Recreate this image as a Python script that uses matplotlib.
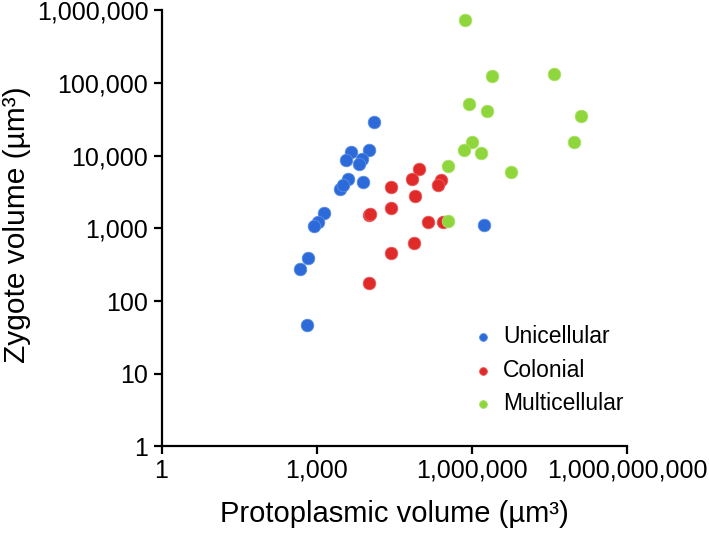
import matplotlib
matplotlib.use("Agg")
import matplotlib.pyplot as plt
from matplotlib.ticker import FixedLocator, FuncFormatter, NullLocator

plt.rcParams['font.family'] = ['Liberation Sans', 'DejaVu Sans']

# values (protoplasmic volume, zygote volume) in um^3
uni_x = [12650, 10140, 4550, 3650, 7430, 6500, 3980, 7760, 2790, 3190,
         1370, 1050, 880, 673, 472, 644, 1680000]
uni_y = [29000, 12000, 11200, 8700, 9000, 7700, 4800, 4350, 3480, 3950,
         1630, 1220, 1080, 392, 277, 47, 1110]

col_x = [93500, 68500, 27000, 249000, 218000, 78300, 27000, 10140, 10600,
         140000, 272000, 75000, 27000, 10140]
col_y = [6560, 4790, 3720, 4630, 3960, 2790, 1910, 1530, 1580,
         1220, 1220, 630, 459, 177]

multi_x = [723000, 2400000, 39500000, 863000, 1920000, 126000000,
           986000, 692000, 1470000, 96000000, 340000, 5830000, 340000]
multi_y = [735000, 125000, 133000, 51400, 41200, 35200,
           15400, 12000, 10900, 15400, 7220, 5970, 1260]

series = [('Unicellular', uni_x, uni_y, '#2b6ad8', '#5a8ee6'),
          ('Colonial', col_x, col_y, '#e02a2a', '#ea5c5c'),
          ('Multicellular', multi_x, multi_y, '#8fd63c', '#a9e266')]

x_ticks = [1, 1e3, 1e6, 1e9]
y_ticks = [1, 10, 100, 1e3, 1e4, 1e5, 1e6]

fig = plt.figure(figsize=(7.09, 5.34), dpi=100)
ax = fig.add_axes([0.2278, 0.1639, 0.6566, 0.8165])

for name, xs, ys, fc, ec in series:
    ax.scatter(xs, ys, s=82, color=fc, edgecolors=ec, linewidths=0.6,
               label=name, zorder=3)

ax.set_xscale('log')
ax.set_yscale('log')
ax.set_xlim(1, 1e9)
ax.set_ylim(1, 1e6)

fmt = FuncFormatter(lambda v, p: f'{int(round(v)):,}')
ax.xaxis.set_major_locator(FixedLocator(x_ticks))
ax.yaxis.set_major_locator(FixedLocator(y_ticks))
ax.xaxis.set_minor_locator(NullLocator())
ax.yaxis.set_minor_locator(NullLocator())
ax.xaxis.set_major_formatter(fmt)
ax.yaxis.set_major_formatter(fmt)

for side in ['top', 'right']:
    ax.spines[side].set_visible(False)
for side in ['left', 'bottom']:
    ax.spines[side].set_linewidth(1.6)
ax.tick_params(axis='both', direction='out', length=5.5, width=1.6,
               labelsize=18)
ax.tick_params(axis='y', pad=4)
ax.tick_params(axis='x', pad=3.5)

ax.set_xlabel('Protoplasmic volume (µm³)', fontsize=21, labelpad=12)
# y label placed by hand so it stays inside the left edge
fig.text(17 / 709, 0.579, 'Zygote volume (µm³)', rotation=90,
         ha='center', va='center', fontsize=21.5)

leg = ax.legend(loc='upper left', bbox_to_anchor=(0.652, 0.408),
                bbox_transform=fig.transFigure, borderaxespad=0,
                frameon=False, fontsize=16.5, markerscale=0.62,
                handlelength=1.0, handletextpad=0.375, labelspacing=0.45)

fig.savefig('out.png', dpi=100)
